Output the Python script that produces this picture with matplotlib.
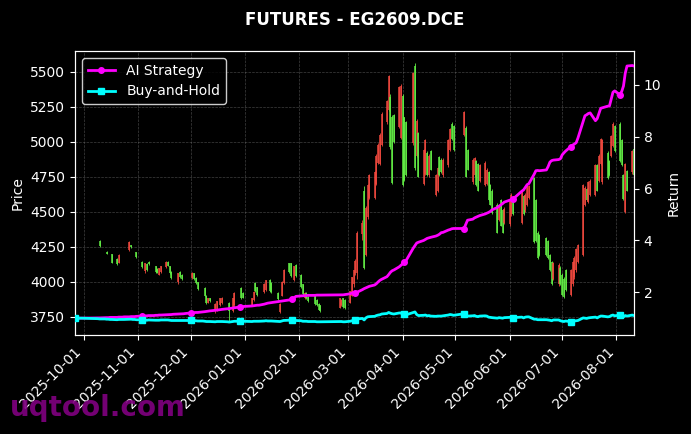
import matplotlib
matplotlib.use("Agg")
import matplotlib.pyplot as plt
import matplotlib.dates as mdates
import numpy as np
import pandas as pd

# ---------------- data ----------------
holidays = ['2025-10-01', '2025-10-02', '2025-10-03', '2025-10-06', '2025-10-07', '2025-10-08',
            '2026-01-01', '2026-01-02', '2026-02-16', '2026-02-17', '2026-02-18', '2026-02-19',
            '2026-02-20', '2026-02-23', '2026-04-06', '2026-05-01', '2026-05-04', '2026-05-05',
            '2026-06-04', '2026-06-05', '2026-06-19']
first_day = '2025-09-26'
last_day = '2026-08-11'

ai_return = [
    1.00, 1.00, 1.00, 1.01, 1.01, 1.02, 1.02, 1.02, 1.03, 1.03, 1.03, 1.04, 1.04, 1.04, 1.05, 1.05, 1.06, 1.06, 1.06, 1.07,
    1.08, 1.08, 1.09, 1.09, 1.10, 1.10, 1.11, 1.11, 1.12, 1.12, 1.13, 1.13, 1.14, 1.14, 1.15, 1.16, 1.16, 1.17, 1.17, 1.18,
    1.20, 1.21, 1.21, 1.22, 1.22, 1.24, 1.25, 1.26, 1.27, 1.28, 1.30, 1.31, 1.32, 1.33, 1.34, 1.36, 1.37, 1.38, 1.39, 1.40, 1.43, 1.44, 1.45,
    1.47, 1.48, 1.49, 1.50, 1.50, 1.54, 1.56, 1.58, 1.59, 1.60, 1.63, 1.64, 1.65, 1.66, 1.67, 1.70, 1.71, 1.73, 1.78, 1.84,
    1.86, 1.87, 1.87, 1.87, 1.88, 1.88, 1.88, 1.89, 1.89, 1.89, 1.90, 1.90, 1.90, 1.91,
    1.94, 1.97, 1.99, 1.98, 2.00, 2.10, 2.14, 2.17, 2.20, 2.23, 2.28, 2.33, 2.40, 2.46, 2.50, 2.60, 2.68, 2.77, 2.83, 2.86, 2.98, 3.04, 3.10, 3.15, 3.23,
    3.70, 3.80, 3.90, 3.93, 4.00, 4.04, 4.08, 4.10, 4.12, 4.17, 4.20, 4.24, 4.30, 4.31, 4.40, 4.42, 4.45, 4.46,
    4.46, 4.62, 4.78, 4.82, 4.87, 4.90, 4.93, 4.96, 5.02, 5.05, 5.08, 5.12, 5.18, 5.27, 5.32, 5.37, 5.42, 5.48, 5.55, 5.58, 5.60,
    5.90, 5.95, 6.05, 6.15, 6.19, 6.55, 6.69, 6.70, 6.69, 6.72, 6.85, 7.02, 7.08, 7.10, 7.12, 7.15, 7.30, 7.38, 7.45,
    7.62, 7.68, 7.72, 7.77, 7.95, 8.60, 8.81, 8.85, 8.90, 8.92, 8.62, 8.70, 8.90, 9.10, 9.12, 9.18, 9.19, 9.45, 9.72, 9.77,
    9.62, 9.75, 9.96, 10.45, 10.73, 10.75, 10.73]

bh_return = [
    1.00, 1.00, 1.00, 0.98, 0.97, 0.97, 0.96, 0.96, 0.95, 0.95, 0.94, 0.95, 0.95, 0.95, 0.95, 0.96, 0.96, 0.95, 0.95, 0.94,
    0.93, 0.93, 0.93, 0.92, 0.93, 0.92, 0.92, 0.92, 0.92, 0.93, 0.93, 0.93, 0.92, 0.91, 0.91, 0.91, 0.91, 0.91, 0.91, 0.91,
    0.91, 0.91, 0.91, 0.90, 0.89, 0.89, 0.88, 0.87, 0.87, 0.87, 0.86, 0.87, 0.87, 0.87, 0.87, 0.86, 0.85, 0.86, 0.87, 0.88, 0.88, 0.88, 0.88,
    0.87, 0.88, 0.88, 0.88, 0.88, 0.89, 0.90, 0.89, 0.89, 0.89, 0.88, 0.88, 0.87, 0.89, 0.91, 0.92, 0.91, 0.91, 0.92, 0.91,
    0.90, 0.88, 0.88, 0.88, 0.87, 0.87, 0.87, 0.86, 0.86, 0.86, 0.87, 0.87, 0.86, 0.86,
    0.88, 0.90, 0.91, 0.93, 0.97, 0.99, 0.93, 1.01, 1.05, 1.06, 1.07, 1.10, 1.12, 1.13, 1.16, 1.18, 1.22, 1.19, 1.17, 1.16, 1.20, 1.20, 1.14, 1.15, 1.13,
    1.22, 1.24, 1.14, 1.10, 1.11, 1.12, 1.09, 1.10, 1.08, 1.07, 1.08, 1.08, 1.08, 1.09, 1.12, 1.14, 1.13, 1.11,
    1.17, 1.10, 1.08, 1.09, 1.10, 1.07, 1.06, 1.08, 1.09, 1.08, 1.04, 1.03, 1.02, 1.00, 1.02, 1.01, 1.00, 1.02, 1.03, 1.04, 1.02,
    1.04, 1.01, 1.04, 1.05, 1.05, 0.96, 0.96, 0.94, 0.94, 0.94, 0.93, 0.92, 0.90, 0.93, 0.93, 0.90, 0.88, 0.87, 0.89,
    0.86, 0.88, 0.89, 0.90, 0.91, 1.01, 1.00, 0.99, 1.01, 1.02, 1.04, 1.01, 1.05, 1.08, 1.08, 1.05, 1.06, 1.10, 1.12, 1.09,
    1.12, 1.10, 1.05, 1.10, 1.08, 1.12, 1.10]

# candles on sparse (illiquid) days before the Spring Festival
sparse_dates = [
    "2025-10-10", "2025-10-14", "2025-10-17", "2025-10-20", "2025-10-21", "2025-10-27", "2025-10-28", "2025-10-31",
    "2025-11-03", "2025-11-05", "2025-11-06", "2025-11-07", "2025-11-11", "2025-11-12", "2025-11-13", "2025-11-14",
    "2025-11-17", "2025-11-18", "2025-11-19", "2025-11-20", "2025-11-24", "2025-11-25", "2025-11-26",
    "2025-12-02", "2025-12-03", "2025-12-04", "2025-12-05", "2025-12-09", "2025-12-10", "2025-12-11", "2025-12-12",
    "2025-12-15", "2025-12-16", "2025-12-18", "2025-12-19", "2025-12-23", "2025-12-25", "2025-12-26", "2025-12-30", "2025-12-31",
    "2026-01-05", "2026-01-06", "2026-01-07", "2026-01-08", "2026-01-12", "2026-01-13", "2026-01-15", "2026-01-16",
    "2026-01-20", "2026-01-21", "2026-01-22", "2026-01-23", "2026-01-26", "2026-01-27", "2026-01-29", "2026-01-30",
    "2026-02-02", "2026-02-03", "2026-02-04", "2026-02-05", "2026-02-06", "2026-02-10", "2026-02-11", "2026-02-12", "2026-02-13"]
dense_start = "2026-02-24"

price_open = [
    4290, 4215, 4195, 4165, 4135, 4225, 4260, 4210,
    4140, 4075, 4125, 4140, 4110, 4090, 4050, 4070, 4105, 4140, 4110, 4070, 3995, 4070, 4050,
    4025, 4060, 4025, 3995, 3955, 3900, 3850, 3880, 3790, 3800, 3830, 3850, 3850, 3790, 3830, 3955, 3920,
    3835, 3870, 3990, 3960, 3925, 3940, 4010, 3990, 3920, 3780, 3900, 3990, 4130, 4130, 4010, 4120,
    4050, 3980, 3880, 3920, 3890, 3900, 3870, 3840, 3830,
    3815, 3830, 3880, 3870,
    3850, 3900, 3980, 4060, 4060, 4340, 4650, 4190, 4460, 4600, 4600, 4700, 4850, 4840, 4980,
    5140, 5230, 5320, 5180, 5190, 5105, 5025, 5330, 5175, 5140,
    4990, 5540, 4900, 5060, 4700, 4770, 4920, 4760, 4930, 4620, 4650, 4890, 4870, 4760, 4830, 4940, 5130, 5110,
    5050, 5100, 4940, 4710, 4760, 4860, 4840, 4720, 4690, 4700, 4780, 4690, 4650, 4550, 4440, 4580, 4510, 4420,
    4410, 4480, 4580, 4420, 4610, 4510, 4550, 4600, 4740, 4580, 4350, 4330, 4310, 4290, 4190, 4140, 4020, 3980, 4100,
    4050, 4020, 4080, 3905, 3980, 4030, 4080, 4140, 4190, 4550, 4660, 4570, 4620, 4620, 4830, 4720, 4840, 4710,
    4920, 4860, 4900, 4970, 5110, 5130, 5010, 4760, 4500, 4790, 4780, 4950]
price_high = [
    4300, 4220, 4200, 4170, 4195, 4290, 4265, 4215,
    4145, 4135, 4130, 4145, 4115, 4095, 4100, 4115, 4145, 4145, 4115, 4075, 4065, 4075, 4055,
    4070, 4065, 4030, 4000, 3960, 3905, 3885, 3885, 3845, 3865, 3885, 3890, 3855, 3885, 3925, 3965, 3925,
    3885, 3930, 3995, 3965, 3990, 4015, 4020, 3995, 3925, 3845, 4005, 4090, 4135, 4135, 4115, 4125,
    4055, 3985, 3925, 3925, 3895, 3905, 3875, 3845, 3835,
    3885, 3875, 3885, 3875,
    3935, 4035, 4085, 4160, 4360, 4440, 4680, 4540, 4700, 4770, 4790, 4910, 4990, 5060, 5210,
    5300, 5480, 5340, 5190, 5200, 5400, 5410, 5340, 5180, 5150,
    5500, 5560, 5160, 5070, 4950, 5020, 4930, 4910, 4940, 4770, 4820, 4900, 4880, 4880, 5020, 5100, 5140, 5120,
    5220, 5110, 4950, 4880, 4890, 4870, 4850, 4840, 4860, 4810, 4790, 4700, 4660, 4560, 4550, 4590, 4520, 4530,
    4590, 4630, 4590, 4660, 4620, 4630, 4700, 4690, 4750, 4590, 4360, 4340, 4320, 4300, 4200, 4150, 4140, 4130, 4110,
    4060, 4030, 4090, 4090, 4150, 4180, 4240, 4270, 4700, 4680, 4670, 4720, 4730, 4840, 4840, 4910, 5030, 5020,
    4930, 4870, 5050, 5140, 5120, 5140, 5020, 4770, 4850, 4800, 4940, 4960]
price_low = [
    4245, 4195, 4130, 4120, 4130, 4220, 4240, 4170,
    4100, 4065, 4075, 4120, 4065, 4060, 4045, 4065, 4100, 4110, 4055, 4020, 3985, 4025, 4015,
    4020, 4015, 3985, 3940, 3895, 3840, 3845, 3855, 3775, 3790, 3825, 3840, 3715, 3780, 3820, 3875, 3880,
    3830, 3865, 3925, 3900, 3920, 3935, 3925, 3920, 3870, 3775, 3895, 3985, 4065, 4035, 4005, 4035,
    3955, 3905, 3875, 3875, 3855, 3835, 3825, 3795, 3785,
    3810, 3825, 3815, 3805,
    3845, 3895, 3960, 4050, 4020, 4300, 4090, 4180, 4450, 4590, 4590, 4690, 4840, 4830, 4970,
    5130, 5220, 4950, 4700, 4990, 5100, 5020, 4680, 4720, 4755,
    4980, 4800, 4890, 4745, 4690, 4760, 4755, 4750, 4795, 4610, 4640, 4755, 4775, 4750, 4820, 4930, 5015, 4935,
    5040, 4745, 4795, 4700, 4750, 4685, 4645, 4710, 4680, 4690, 4575, 4545, 4485, 4345, 4430, 4395, 4345, 4410,
    4400, 4470, 4475, 4410, 4475, 4500, 4540, 4590, 4275, 4285, 4165, 4185, 4185, 4165, 4075, 3975, 4010, 3970, 3975,
    3900, 3885, 3935, 3895, 3970, 4020, 4070, 4130, 4180, 4540, 4575, 4560, 4610, 4610, 4645, 4710, 4830, 4700,
    4735, 4755, 4890, 4960, 4925, 4855, 4825, 4585, 4490, 4645, 4770, 4755]
price_close = [
    4255, 4200, 4135, 4125, 4190, 4280, 4245, 4175,
    4105, 4130, 4080, 4125, 4070, 4065, 4095, 4110, 4140, 4115, 4060, 4025, 4060, 4030, 4020,
    4065, 4020, 3990, 3945, 3900, 3850, 3880, 3860, 3840, 3860, 3880, 3880, 3790, 3880, 3920, 3880, 3885,
    3880, 3925, 3930, 3905, 3985, 4010, 3930, 3925, 3875, 3840, 4000, 4080, 4070, 4040, 4110, 4040,
    3960, 3910, 3920, 3880, 3860, 3840, 3830, 3800, 3790,
    3880, 3870, 3820, 3810,
    3930, 4030, 4080, 4150, 4345, 4420, 4100, 4525, 4690, 4760, 4780, 4900, 4975, 5050, 5200,
    5290, 5470, 4960, 4705, 5000, 5390, 5400, 4690, 4725, 4760,
    5490, 4810, 5150, 4750, 4940, 5010, 4760, 4900, 4800, 4760, 4810, 4760, 4780, 4870, 5010, 5090, 5020, 4940,
    5210, 4750, 4800, 4870, 4880, 4690, 4650, 4830, 4850, 4800, 4580, 4550, 4490, 4350, 4540, 4400, 4350, 4520,
    4580, 4620, 4480, 4650, 4480, 4620, 4690, 4680, 4280, 4290, 4170, 4190, 4190, 4170, 4080, 3980, 4130, 4120, 3980,
    3905, 3890, 3940, 4080, 4140, 4170, 4230, 4260, 4690, 4670, 4580, 4710, 4720, 4830, 4650, 4900, 5020, 5010,
    4740, 4760, 5040, 5130, 4930, 4860, 4830, 4590, 4840, 4650, 4930, 4760]

up_color = '#f0483e'
down_color = '#62ee45'

# ---------------- build ----------------
trade_dates = pd.bdate_range(first_day, last_day)
trade_dates = trade_dates[~trade_dates.isin(pd.to_datetime(holidays))]
assert len(trade_dates) == len(ai_return) == len(bh_return), (len(trade_dates), len(ai_return), len(bh_return))

candle_dates = pd.to_datetime(sparse_dates).append(trade_dates[trade_dates >= dense_start])
o = np.array(price_open, float)
h = np.array(price_high, float)
l = np.array(price_low, float)
c = np.array(price_close, float)
assert len(candle_dates) == len(o) == len(h) == len(l) == len(c), (len(candle_dates), len(o), len(h), len(l), len(c))

fig = plt.figure(figsize=(6.91, 4.34), dpi=100, facecolor='black')
ax1 = fig.add_axes([75 / 691, 99 / 434, 559 / 691, 284 / 434])
ax1.set_facecolor('black')

colors = np.where(c >= o, up_color, down_color)
ax1.vlines(candle_dates, l, h, colors=colors, linewidth=0.6, zorder=2)
ax1.vlines(candle_dates, np.minimum(o, c), np.maximum(o, c), colors=colors, linewidth=1.1, zorder=2)

ax1.set_ylim(3619, 5648)
ax1.set_yticks([3750, 4000, 4250, 4500, 4750, 5000, 5250, 5500])
ax1.set_xlim(trade_dates[0], trade_dates[-1])
ax1.xaxis.set_major_locator(mdates.MonthLocator())
ax1.xaxis.set_major_formatter(mdates.DateFormatter('%Y-%m-%d'))
ax1.grid(True, color='gray', linestyle='--', linewidth=0.5, alpha=0.5)
ax1.set_ylabel('Price', color='white', fontsize=10)
ax1.tick_params(colors='white', labelsize=10)
plt.setp(ax1.get_xticklabels(), rotation=45, ha='right')
ax1.set_title('FUTURES - EG2609.DCE', color='white', fontweight='bold', fontsize=12, pad=19)

ax2 = ax1.twinx()
ax2.plot(trade_dates, ai_return, color='magenta', linewidth=2, marker='o', markersize=4,
         markevery=20, label='AI Strategy', zorder=3)
ax2.plot(trade_dates, bh_return, color='cyan', linewidth=2, marker='s', markersize=4,
         markevery=20, label='Buy-and-Hold', zorder=3)
ax2.set_ylim(0.35, 11.31)
ax2.set_yticks([2, 4, 6, 8, 10])
ax2.set_ylabel('Return', color='white', fontsize=10)
ax2.tick_params(colors='white', labelsize=10)

for ax in (ax1, ax2):
    for s in ax.spines.values():
        s.set_color('white')

leg = ax2.legend(loc='upper left', facecolor='black', edgecolor='white', labelcolor='white', fontsize=10)

fig.text(10 / 691, 18 / 434, 'uqtool.com', fontsize=20, fontweight='bold', color='#800080',
         alpha=0.9, va='baseline', ha='left', zorder=10)

fig.savefig('out.png', dpi=100, facecolor='black')
